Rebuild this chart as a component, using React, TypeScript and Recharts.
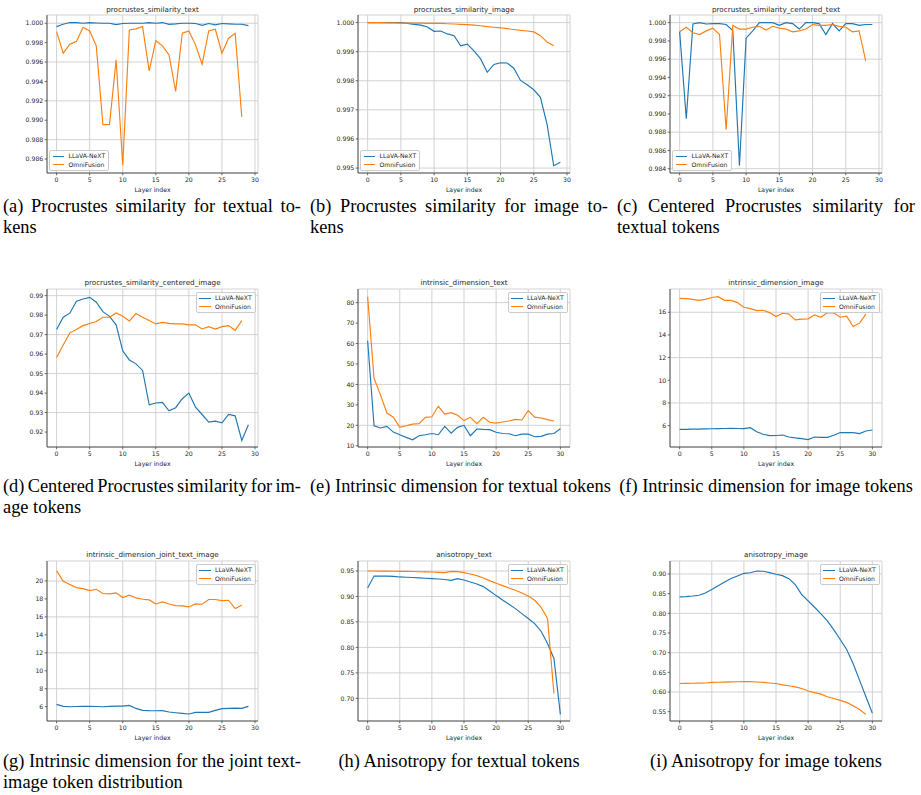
import React from 'react'
import { LineChart, Line, XAxis, YAxis, CartesianGrid } from 'recharts'

const layerIndex = [0, 1, 2, 3, 4, 5, 6, 7, 8, 9, 10, 11, 12, 13, 14, 15, 16, 17, 18, 19, 20, 21, 22, 23, 24, 25, 26, 27, 28, 29, 30]
const xTicks = [0, 5, 10, 15, 20, 25, 30]

const procTextLlava = [0.99965, 0.9999, 1.00007, 1.00007, 1.0, 1.00007, 1.00003, 1.0, 1.0, 0.99986, 0.99997, 1.0, 1.0, 1.0, 1.00007, 1.0, 1.00007, 0.99989, 0.99993, 1.0, 1.0, 0.99997, 0.99979, 0.99997, 0.99983, 0.99997, 0.99993, 0.9999, 0.9999, 0.99976]
const procTextOmni = [0.99914, 0.99691, 0.99784, 0.99811, 0.99959, 0.99921, 0.99767, 0.98954, 0.98957, 0.99623, 0.98535, 0.99931, 0.99942, 0.99966, 0.99509, 0.99822, 0.99767, 0.99674, 0.99297, 0.99897, 0.99921, 0.99777, 0.99578, 0.99921, 0.99938, 0.99691, 0.99846, 0.99897, 0.99033]

const procImageLlava = [1.0, 1.0, 1.0, 1.0, 1.0, 1.0, 0.99997, 0.99994, 0.99991, 0.99985, 0.9997, 0.99971, 0.99961, 0.99955, 0.9992, 0.99926, 0.99903, 0.99875, 0.99829, 0.99856, 0.99862, 0.99861, 0.99843, 0.99801, 0.99786, 0.99769, 0.99743, 0.9965, 0.99508, 0.9952]
const procImageOmni = [1.0, 1.0, 1.0, 0.99999, 0.99999, 0.99998, 0.99998, 0.99998, 0.99998, 0.99997, 0.99997, 0.99997, 0.99996, 0.99995, 0.99994, 0.99993, 0.99991, 0.99989, 0.99986, 0.99984, 0.99982, 0.99979, 0.99976, 0.99973, 0.99971, 0.99968, 0.99955, 0.99933, 0.9992]

const procCenteredTextLlava = [0.99902, 0.98947, 0.99985, 1.0, 0.99985, 0.9999, 0.9999, 0.9998, 0.99913, 0.98434, 0.9983, 0.9991, 1.0, 1.0, 1.0, 0.9997, 1.0, 0.9999, 0.9993, 1.0, 1.0, 0.9999, 0.9987, 0.9999, 0.9991, 0.9999, 0.9999, 0.9997, 0.9998, 0.9998]
const procCenteredTextOmni = [0.999, 0.9995, 0.9989, 0.9987, 0.9991, 0.9994, 0.9987, 0.98827, 0.9997, 0.9993, 0.9993, 0.9995, 0.9996, 0.9992, 0.9996, 0.9994, 0.9993, 0.999, 0.9991, 0.9993, 0.9998, 0.9997, 0.9997, 0.9998, 0.9996, 0.9995, 0.999, 0.9991, 0.99581]

const procCenteredImageLlava = [0.9726, 0.9789, 0.981, 0.9871, 0.9883, 0.9891, 0.9866, 0.9818, 0.9794, 0.975, 0.9617, 0.957, 0.955, 0.9516, 0.934, 0.9349, 0.9352, 0.9309, 0.9325, 0.9371, 0.94, 0.9328, 0.929, 0.9251, 0.9256, 0.9247, 0.929, 0.9283, 0.9157, 0.9237]
const procCenteredImageOmni = [0.9582, 0.9647, 0.9709, 0.9726, 0.9746, 0.9757, 0.9767, 0.9789, 0.9789, 0.9811, 0.9794, 0.977, 0.9808, 0.9789, 0.9772, 0.9755, 0.9763, 0.9758, 0.9755, 0.9755, 0.975, 0.975, 0.9729, 0.9741, 0.9728, 0.9741, 0.9746, 0.9722, 0.9772]

const idTextLlava = [61.4, 19.8, 18.7, 19.5, 16.7, 15.4, 14.1, 12.9, 14.9, 15.4, 16.0, 15.4, 19.5, 16.2, 19.0, 20.0, 14.9, 18.2, 18.0, 17.9, 16.6, 16.0, 15.9, 14.9, 15.7, 15.7, 14.4, 14.6, 15.7, 16.0, 18.3]
const idTextOmni = [82.9, 43.0, 34.9, 26.0, 24.0, 19.0, 19.8, 20.6, 20.8, 23.9, 24.2, 29.3, 25.5, 26.2, 24.9, 22.3, 23.9, 20.8, 23.9, 21.5, 21.1, 21.6, 22.1, 22.9, 22.6, 27.2, 24.0, 23.6, 22.8, 22.1]

const idImageLlava = [5.68, 5.67, 5.69, 5.7, 5.72, 5.73, 5.74, 5.75, 5.76, 5.75, 5.74, 5.82, 5.47, 5.24, 5.12, 5.13, 5.18, 5.0, 4.92, 4.86, 4.77, 5.0, 4.97, 4.97, 5.15, 5.39, 5.39, 5.39, 5.3, 5.53, 5.62]
const idImageOmni = [17.23, 17.2, 17.14, 17.05, 17.14, 17.3, 17.37, 17.05, 17.05, 16.85, 16.44, 16.32, 16.15, 16.18, 15.97, 15.62, 15.91, 15.85, 15.33, 15.39, 15.42, 15.77, 15.56, 15.97, 15.94, 15.56, 15.65, 14.74, 15.04, 15.83]

const idJointLlava = [6.26, 6.04, 6.0, 6.02, 6.04, 6.05, 6.02, 6.0, 6.04, 6.06, 6.06, 6.15, 5.81, 5.59, 5.56, 5.55, 5.56, 5.41, 5.33, 5.26, 5.19, 5.37, 5.37, 5.37, 5.59, 5.78, 5.81, 5.85, 5.81, 6.04]
const idJointOmni = [21.15, 19.96, 19.6, 19.26, 19.15, 18.93, 19.07, 18.6, 18.56, 18.67, 18.15, 18.41, 18.11, 17.96, 17.89, 17.44, 17.67, 17.44, 17.26, 17.22, 17.11, 17.44, 17.41, 17.93, 17.93, 17.81, 17.85, 16.93, 17.3]

const anisoTextLlava = [0.9167, 0.9402, 0.94, 0.9398, 0.9395, 0.9383, 0.9378, 0.9372, 0.9365, 0.9358, 0.935, 0.9343, 0.9333, 0.9317, 0.935, 0.9324, 0.9285, 0.9245, 0.9193, 0.9108, 0.9017, 0.8932, 0.8847, 0.8762, 0.8664, 0.8567, 0.8468, 0.8318, 0.8077, 0.7783, 0.6687]
const anisoTextOmni = [0.95, 0.9499, 0.9498, 0.9497, 0.9495, 0.9493, 0.9491, 0.9489, 0.9486, 0.9484, 0.948, 0.9474, 0.9467, 0.9493, 0.9487, 0.9467, 0.9441, 0.9409, 0.9363, 0.9311, 0.9259, 0.9213, 0.9167, 0.9121, 0.9069, 0.901, 0.8925, 0.8788, 0.857, 0.7098]

const anisoImageLlava = [0.8417, 0.8425, 0.844, 0.846, 0.8518, 0.8603, 0.87, 0.8797, 0.8885, 0.8949, 0.9017, 0.903, 0.9076, 0.907, 0.9034, 0.8992, 0.8958, 0.8882, 0.8729, 0.8475, 0.8315, 0.8154, 0.7985, 0.7808, 0.758, 0.7334, 0.708, 0.6726, 0.6303, 0.588, 0.5458]
const anisoImageOmni = [0.6216, 0.6219, 0.6222, 0.6226, 0.623, 0.6244, 0.6248, 0.6252, 0.6256, 0.626, 0.6267, 0.6262, 0.6255, 0.6245, 0.623, 0.6216, 0.618, 0.6159, 0.613, 0.609, 0.6024, 0.5985, 0.5945, 0.588, 0.5835, 0.5786, 0.5736, 0.565, 0.5555, 0.5432]

const ticksProcText = [0.986, 0.988, 0.99, 0.992, 0.994, 0.996, 0.998, 1.0]
const ticksProcImage = [0.995, 0.996, 0.997, 0.998, 0.999, 1.0]
const ticksProcCenteredText = [0.984, 0.986, 0.988, 0.99, 0.992, 0.994, 0.996, 0.998, 1.0]
const ticksProcCenteredImage = [0.92, 0.93, 0.94, 0.95, 0.96, 0.97, 0.98, 0.99]
const ticksIdText = [10, 20, 30, 40, 50, 60, 70, 80]
const ticksIdImage = [6, 8, 10, 12, 14, 16]
const ticksIdJoint = [6, 8, 10, 12, 14, 16, 18, 20]
const ticksAnisoText = [0.7, 0.75, 0.8, 0.85, 0.9, 0.95]
const ticksAnisoImage = [0.55, 0.6, 0.65, 0.7, 0.75, 0.8, 0.85, 0.9]

const BLUE = '#1f77b4'
const ORANGE = '#ff7f0e'
const INK = '#262626'
const SPINE = '#444444'
const GRID = '#cdcdcd'

const col = [47, 358, 670]
const colW = [211, 212, 212]
const row = [15, 288.5, 560.7]
const rowH = [158, 158, 160]
const capLeft = [3, 310, 617]
const capTop = [196, 476, 750.5]

type PanelDef = {
  title: string
  llava: number[]
  omni: number[]
  c: number
  r: number
  xDomain: [number, number]
  yDomain: [number, number]
  yTicks: number[]
  digits: number
  legend: 'lowerLeft' | 'upperRight'
  caption: string[]
}

const panels: PanelDef[] = [
  { title: 'procrustes_similarity_text', llava: procTextLlava, omni: procTextOmni, c: 0, r: 0, xDomain: [-1.45, 30.45], yDomain: [0.98456, 1.00085], yTicks: ticksProcText, digits: 3, legend: 'lowerLeft', caption: ['(a) Procrustes similarity for textual to-', 'kens'] },
  { title: 'procrustes_similarity_image', llava: procImageLlava, omni: procImageOmni, c: 1, r: 0, xDomain: [-1.45, 30.45], yDomain: [0.99483, 1.00026], yTicks: ticksProcImage, digits: 3, legend: 'lowerLeft', caption: ['(b) Procrustes similarity for image to-', 'kens'] },
  { title: 'procrustes_similarity_centered_text', llava: procCenteredTextLlava, omni: procCenteredTextOmni, c: 2, r: 0, xDomain: [-1.45, 30.45], yDomain: [0.98353, 1.00084], yTicks: ticksProcCenteredText, digits: 3, legend: 'lowerLeft', caption: ['(c) Centered Procrustes similarity for', 'textual tokens'] },
  { title: 'procrustes_similarity_centered_image', llava: procCenteredImageLlava, omni: procCenteredImageOmni, c: 0, r: 1, xDomain: [-1.45, 30.45], yDomain: [0.91232, 0.99341], yTicks: ticksProcCenteredImage, digits: 2, legend: 'upperRight', caption: ['(d) Centered Procrustes similarity for im-', 'age tokens'] },
  { title: 'intrinsic_dimension_text', llava: idTextLlava, omni: idTextOmni, c: 1, r: 1, xDomain: [-1.5, 31.5], yDomain: [9.4, 86.67], yTicks: ticksIdText, digits: 0, legend: 'upperRight', caption: ['(e) Intrinsic dimension for textual tokens'] },
  { title: 'intrinsic_dimension_image', llava: idImageLlava, omni: idImageOmni, c: 2, r: 1, xDomain: [-1.5, 31.5], yDomain: [4.12, 18.05], yTicks: ticksIdImage, digits: 0, legend: 'upperRight', caption: ['(f) Intrinsic dimension for image tokens'] },
  { title: 'intrinsic_dimension_joint_text_image', llava: idJointLlava, omni: idJointOmni, c: 0, r: 2, xDomain: [-1.45, 30.45], yDomain: [4.41, 22.22], yTicks: ticksIdJoint, digits: 0, legend: 'upperRight', caption: ['(g) Intrinsic dimension for the joint text-', 'image token distribution'] },
  { title: 'anisotropy_text', llava: anisoTextLlava, omni: anisoTextOmni, c: 1, r: 2, xDomain: [-1.5, 31.5], yDomain: [0.6556, 0.9696], yTicks: ticksAnisoText, digits: 2, legend: 'upperRight', caption: ['(h) Anisotropy for textual tokens'] },
  { title: 'anisotropy_image', llava: anisoImageLlava, omni: anisoImageOmni, c: 2, r: 2, xDomain: [-1.5, 31.5], yDomain: [0.5263, 0.933], yTicks: ticksAnisoImage, digits: 2, legend: 'upperRight', caption: ['(i) Anisotropy for image tokens'] },
]

const tickFont = { fontSize: 6.2, fill: INK, fontFamily: 'DejaVu Sans' }

// space around the plot box inside each chart svg (margin + axis size)
const ML = 50
const MT = 16
const MR = 20
const MB = 26
const Y_AXIS_W = 40
const X_AXIS_H = 22

function PlotLegend({ where, w, h }: { where: 'lowerLeft' | 'upperRight'; w: number; h: number }) {
  const pos: React.CSSProperties =
    where === 'lowerLeft'
      ? { left: ML + 2, top: MT + h - 2.5 - 21 }
      : { left: ML + w - 2.5 - 60, top: MT + 3 }
  const items = [
    { name: 'LLaVA-NeXT', color: BLUE },
    { name: 'OmniFusion', color: ORANGE },
  ]
  return (
    <div
      style={{
        position: 'absolute',
        ...pos,
        width: 60,
        height: 21,
        boxSizing: 'border-box',
        background: 'rgba(255,255,255,0.8)',
        border: '0.8px solid #cbcbcb',
        borderRadius: 2,
        padding: '1.5px 2.5px',
        fontFamily: 'DejaVu Sans',
        fontSize: 6.1,
        color: INK,
      }}
    >
      {items.map((it) => (
        <div key={it.name} style={{ display: 'flex', alignItems: 'center', height: 8.5 }}>
          <span style={{ display: 'inline-block', width: 11.5, height: 1.1, background: it.color, marginRight: 4.5 }} />
          <span style={{ whiteSpace: 'nowrap', lineHeight: '8px' }}>{it.name}</span>
        </div>
      ))}
    </div>
  )
}

function Panel({ p }: { p: PanelDef }) {
  const w = colW[p.c]
  const h = rowH[p.r]
  const rows = layerIndex
    .map((layer, i) => ({ layer, llava: p.llava[i], omni: p.omni[i] }))
    .filter((d) => d.llava !== undefined || d.omni !== undefined)
  const fmt = (v: number) => v.toFixed(p.digits)

  return (
    <div style={{ position: 'absolute', left: col[p.c] - ML, top: row[p.r] - MT, width: w + ML + MR, height: h + MT + MB }}>
      <LineChart
        width={w + ML + MR}
        height={h + MT + MB}
        data={rows}
        margin={{ top: MT, left: ML - Y_AXIS_W, right: MR, bottom: MB - X_AXIS_H }}
      >
        <CartesianGrid stroke={GRID} strokeWidth={0.9} />
        <XAxis
          dataKey="layer"
          type="number"
          domain={p.xDomain}
          ticks={xTicks}
          allowDataOverflow
          height={X_AXIS_H}
          tick={tickFont}
          tickSize={2.3}
          tickMargin={2.2}
          tickLine={{ stroke: SPINE, strokeWidth: 0.8 }}
          axisLine={{ stroke: SPINE, strokeWidth: 0.9 }}
          label={{ value: 'Layer index', position: 'insideBottom', offset: 3.5, fontSize: 6.2, fill: INK, fontFamily: 'DejaVu Sans' }}
        />
        <YAxis
          type="number"
          domain={p.yDomain}
          ticks={p.yTicks}
          allowDataOverflow
          width={Y_AXIS_W}
          tick={tickFont}
          tickFormatter={fmt}
          tickSize={2.3}
          tickMargin={1.4}
          tickLine={{ stroke: SPINE, strokeWidth: 0.8 }}
          axisLine={{ stroke: SPINE, strokeWidth: 0.9 }}
        />
        <XAxis
          xAxisId="top"
          orientation="top"
          dataKey="layer"
          type="number"
          domain={p.xDomain}
          allowDataOverflow
          height={0}
          tick={false}
          tickLine={false}
          axisLine={{ stroke: SPINE, strokeWidth: 0.9 }}
        />
        <YAxis
          yAxisId="right"
          orientation="right"
          type="number"
          domain={p.yDomain}
          allowDataOverflow
          width={0}
          tick={false}
          tickLine={false}
          axisLine={{ stroke: SPINE, strokeWidth: 0.9 }}
        />
        <Line type="linear" dataKey="llava" name="LLaVA-NeXT" stroke={BLUE} strokeWidth={1.15} dot={false} activeDot={false} isAnimationActive={false} />
        <Line type="linear" dataKey="omni" name="OmniFusion" stroke={ORANGE} strokeWidth={1.15} dot={false} activeDot={false} isAnimationActive={false} />
      </LineChart>
      <div
        style={{
          position: 'absolute',
          left: ML,
          width: w,
          top: MT - 9.5,
          height: 8,
          lineHeight: '8px',
          textAlign: 'center',
          fontFamily: 'DejaVu Sans',
          fontSize: 7.2,
          color: INK,
          whiteSpace: 'nowrap',
        }}
      >
        {p.title}
      </div>
      <PlotLegend where={p.legend} w={w} h={h} />
    </div>
  )
}

function Caption({ p }: { p: PanelDef }) {
  const multi = p.caption.length > 1
  return (
    <div
      style={{
        position: 'absolute',
        left: capLeft[p.c],
        top: capTop[p.r],
        width: 298,
        fontFamily: '"Liberation Serif", serif',
        fontSize: 18.4,
        lineHeight: '21px',
        color: '#000',
      }}
    >
      {p.caption.map((line, i) => (
        <div
          key={i}
          style={{
            whiteSpace: 'nowrap',
            wordSpacing: multi && i === 0 ? '-1.5px' : undefined,
            textAlign: multi ? (i === 0 ? 'justify' : 'left') : 'center',
            textAlignLast: multi ? (i === 0 ? 'justify' : 'left') : 'center',
          }}
        >
          {line}
        </div>
      ))}
    </div>
  )
}

export default function App() {
  return (
    <div style={{ position: 'absolute', left: 0, top: 0, width: 921, height: 795, background: '#fff', overflow: 'hidden' }}>
      {panels.map((p) => (
        <React.Fragment key={p.title}>
          <Panel p={p} />
          <Caption p={p} />
        </React.Fragment>
      ))}
    </div>
  )
}
